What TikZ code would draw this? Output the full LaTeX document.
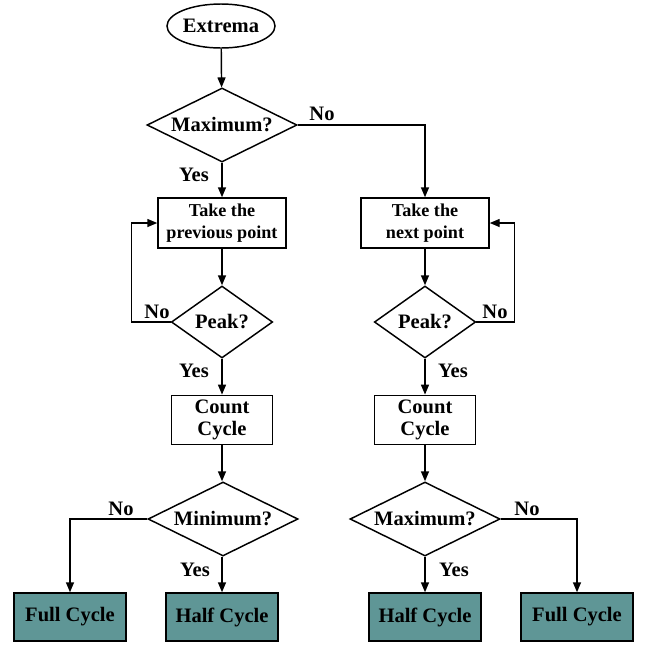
\documentclass[tikz,border=0pt]{standalone}
\usepackage{fontspec}
\setmainfont{Liberation Serif}
\usetikzlibrary{shapes.geometric,arrows.meta}
\definecolor{cyclefill}{RGB}{95,150,150}
\tikzset{
  x=0.75pt, y=-0.75pt,
  base/.style={draw=black, line width=1.1pt, inner sep=0pt, align=center,
    font=\fontsize{15.4pt}{16.5pt}\selectfont\bfseries},
  startnode/.style={base, ellipse, minimum width=81pt, minimum height=33pt},
  decision/.style={base, diamond, aspect=2, minimum width=112.5pt, minimum height=55.5pt},
  smalldecision/.style={base, diamond, aspect=1.4, minimum width=76pt, minimum height=54pt},
  procbox/.style={base, rectangle, minimum width=96pt, minimum height=37.5pt,
    font=\fontsize{13.6pt}{17pt}\selectfont\bfseries},
  countbox/.style={base, rectangle, minimum width=76pt, minimum height=37pt},
  resultbox/.style={base, rectangle, fill=cyclefill, minimum width=84pt, minimum height=36pt},
  lbl/.style={inner sep=0pt, font=\fontsize{15.4pt}{16.5pt}\selectfont\bfseries},
  arr/.style={line width=1.1pt, -{Triangle[length=7.5pt,width=6pt]}},
  ln/.style={line width=1.1pt}
}
\begin{document}
\begin{tikzpicture}
\useasboundingbox (0,0) rectangle (646,644);
% nodes
\node[startnode] (ext) at (221,26) {Extrema};
\node[decision] (max) at (222,125) {Maximum?};
\node[procbox] (tp) at (222,223) {Take the\\previous point};
\node[procbox] (tn) at (425,223) {Take the\\next point};
\node[smalldecision] (pl) at (222,322) {Peak?};
\node[smalldecision] (pr) at (425,322) {Peak?};
\node[countbox] (cl) at (222,420) {Count\\Cycle};
\node[countbox] (cr) at (425,420) {Count\\Cycle};
\node[decision] (minl) at (223,519) {Minimum?};
\node[decision] (maxr) at (425,519) {Maximum?};
\node[resultbox] (fl) at (70,617) {Full Cycle};
\node[resultbox] (hl) at (222,617) {Half Cycle};
\node[resultbox] (hr) at (425,617) {Half Cycle};
\node[resultbox] (fr) at (577,617) {Full Cycle};
% connectors
\draw[arr] (ext) -- (max);
\draw[arr] (max.south) -- (tp.north);
\draw[arr] (max.east) -| (tn.north);
\draw[arr] (tp.south) -- (pl.north);
\draw[arr] (tn.south) -- (pr.north);
\draw[arr] (pl.west) -- ++(-39,0) |- (tp.west);
\draw[arr] (pr.east) -- ++(38,0) |- (tn.east);
\draw[arr] (pl.south) -- (cl.north);
\draw[arr] (pr.south) -- (cr.north);
\draw[arr] (cl.south) -- (minl.north -| cl.south);
\draw[arr] (cr.south) -- (maxr.north);
\draw[arr] (minl.west) -| (fl.north);
\draw[arr] (minl.south -| hl.north) -- (hl.north);
\draw[arr] (maxr.south) -- (hr.north);
\draw[arr] (maxr.east) -| (fr.north);
% labels
\node[lbl] (n1) at (322,114) {No};
\node[lbl] (y1) at (194,175) {Yes};
\node[lbl] (n2) at (157,312) {No};
\node[lbl] (n3) at (495,312) {No};
\node[lbl] (y2) at (194,371) {Yes};
\node[lbl] (y3) at (453,371) {Yes};
\node[lbl] (n4) at (121,509) {No};
\node[lbl] (n5) at (527,509) {No};
\node[lbl] (y4) at (195,570) {Yes};
\node[lbl] (y5) at (454,570) {Yes};
\end{tikzpicture}
\end{document}
